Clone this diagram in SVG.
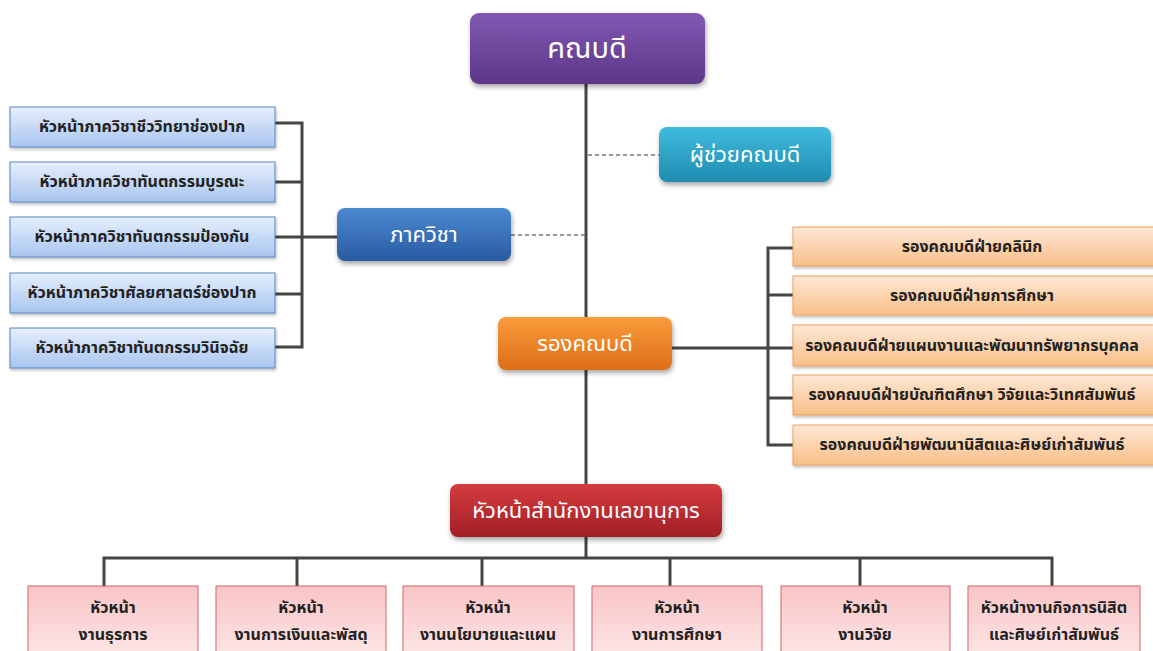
<svg xmlns="http://www.w3.org/2000/svg" width="1153" height="651" viewBox="0 0 1153 651">
<defs>
<linearGradient id="gPurple" x1="0" y1="0" x2="0" y2="1"><stop offset="0" stop-color="#8159b0"/><stop offset="1" stop-color="#5c3689"/></linearGradient>
<linearGradient id="gTeal" x1="0" y1="0" x2="0" y2="1"><stop offset="0" stop-color="#3fbbdc"/><stop offset="1" stop-color="#1f8db0"/></linearGradient>
<linearGradient id="gBlue" x1="0" y1="0" x2="0" y2="1"><stop offset="0" stop-color="#4b89d0"/><stop offset="1" stop-color="#295ba2"/></linearGradient>
<linearGradient id="gOrange" x1="0" y1="0" x2="0" y2="1"><stop offset="0" stop-color="#f99c3b"/><stop offset="1" stop-color="#de6e18"/></linearGradient>
<linearGradient id="gRed" x1="0" y1="0" x2="0" y2="1"><stop offset="0" stop-color="#d43c3e"/><stop offset="1" stop-color="#a21f27"/></linearGradient>
<linearGradient id="gLBlue" x1="0" y1="0" x2="0" y2="1"><stop offset="0" stop-color="#e6effc"/><stop offset="1" stop-color="#a8c5ef"/></linearGradient>
<linearGradient id="gLOrange" x1="0" y1="0" x2="0" y2="1"><stop offset="0" stop-color="#fde8d5"/><stop offset="1" stop-color="#f9bf88"/></linearGradient>
<linearGradient id="gPink" x1="0" y1="0" x2="0" y2="1"><stop offset="0" stop-color="#f9c4c6"/><stop offset="1" stop-color="#fde6e6"/></linearGradient>
<filter id="sh" x="-10%" y="-20%" width="120%" height="150%"><feDropShadow dx="1" dy="3" stdDeviation="2.5" flood-color="#000" flood-opacity="0.35"/></filter>
<filter id="shs" x="-10%" y="-20%" width="120%" height="150%"><feDropShadow dx="1" dy="2" stdDeviation="1.5" flood-color="#000" flood-opacity="0.25"/></filter>
</defs>
<style>
.conn{stroke:#444;stroke-width:3;fill:none}
.dash{stroke:#777;stroke-width:1.5;stroke-dasharray:4 3;fill:none}
.t{font-family:"Noto Sans Thai","Leelawadee UI",Tahoma,"Liberation Sans",sans-serif;text-anchor:middle;dominant-baseline:central}
.big{fill:#fff;font-size:29px}
.mid{fill:#fff;font-size:22px}
.small{fill:#222;font-size:16px;font-weight:bold}
.lb{fill:url(#gLBlue);stroke:#5b86c8;stroke-width:1}
.lo{fill:url(#gLOrange);stroke:#e9a262;stroke-width:1}
.pk{fill:url(#gPink);stroke:#d2676b;stroke-width:1}
</style>
<rect width="1153" height="651" fill="#fff"/>
<g id="connectors">
<line class="conn" x1="586" y1="84" x2="586" y2="484"/>
<line class="conn" x1="586" y1="537" x2="586" y2="558"/>
<line class="dash" x1="588" y1="155" x2="659" y2="155"/>
<line class="dash" x1="511" y1="235" x2="585" y2="235"/>
<polyline class="conn" points="275,123 302,123 302,347 275,347"/>
<line class="conn" x1="275" y1="182" x2="302" y2="182"/>
<line class="conn" x1="275" y1="294" x2="302" y2="294"/>
<line class="conn" x1="275" y1="237" x2="337" y2="237"/>
<line class="conn" x1="672" y1="348" x2="793" y2="348"/>
<polyline class="conn" points="793,248 768,248 768,445 793,445"/>
<line class="conn" x1="768" y1="295" x2="793" y2="295"/>
<line class="conn" x1="768" y1="398" x2="793" y2="398"/>
<polyline class="conn" points="104,586 104,558 1052,558 1052,586"/>
<line class="conn" x1="297" y1="558" x2="297" y2="586"/>
<line class="conn" x1="482" y1="558" x2="482" y2="586"/>
<line class="conn" x1="670" y1="558" x2="670" y2="586"/>
<line class="conn" x1="860" y1="558" x2="860" y2="586"/>
</g>
<g id="dean"><rect x="470" y="13" width="235" height="71" rx="9" fill="url(#gPurple)" filter="url(#sh)"/><text class="t big" x="587" y="49">คณบดี</text></g>
<g id="assistant"><rect x="659" y="127" width="172" height="55" rx="8" fill="url(#gTeal)" filter="url(#sh)"/><text class="t mid" x="745" y="155">ผู้ช่วยคณบดี</text></g>
<g id="dept"><rect x="337" y="208" width="174" height="53" rx="8" fill="url(#gBlue)" filter="url(#sh)"/><text class="t mid" x="424" y="235">ภาควิชา</text></g>
<g id="vicedean"><rect x="498" y="317" width="174" height="53" rx="8" fill="url(#gOrange)" filter="url(#sh)"/><text class="t mid" x="585" y="344">รองคณบดี</text></g>
<g id="secretary"><rect x="450" y="484" width="272" height="53" rx="8" fill="url(#gRed)" filter="url(#sh)"/><text class="t mid" x="586" y="511">หัวหน้าสำนักงานเลขานุการ</text></g>
<g id="d1"><rect class="lb" x="10" y="107" width="265" height="40" filter="url(#shs)"/><text class="t small" x="142" y="127">หัวหน้าภาควิชาชีววิทยาช่องปาก</text></g>
<g id="d2"><rect class="lb" x="10" y="162" width="265" height="40" filter="url(#shs)"/><text class="t small" x="142" y="182">หัวหน้าภาควิชาทันตกรรมบูรณะ</text></g>
<g id="d3"><rect class="lb" x="10" y="217" width="265" height="40" filter="url(#shs)"/><text class="t small" x="142" y="237">หัวหน้าภาควิชาทันตกรรมป้องกัน</text></g>
<g id="d4"><rect class="lb" x="10" y="273" width="265" height="40" filter="url(#shs)"/><text class="t small" x="142" y="293">หัวหน้าภาควิชาศัลยศาสตร์ช่องปาก</text></g>
<g id="d5"><rect class="lb" x="10" y="328" width="265" height="40" filter="url(#shs)"/><text class="t small" x="142" y="348">หัวหน้าภาควิชาทันตกรรมวินิจฉัย</text></g>
<g id="v1"><rect class="lo" x="793" y="227" width="362" height="39" filter="url(#shs)"/><text class="t small" x="972" y="247">รองคณบดีฝ่ายคลินิก</text></g>
<g id="v2"><rect class="lo" x="793" y="276" width="362" height="39" filter="url(#shs)"/><text class="t small" x="972" y="296">รองคณบดีฝ่ายการศึกษา</text></g>
<g id="v3"><rect class="lo" x="793" y="325" width="362" height="41" filter="url(#shs)"/><text class="t small" x="972" y="346">รองคณบดีฝ่ายแผนงานและพัฒนาทรัพยากรบุคคล</text></g>
<g id="v4"><rect class="lo" x="793" y="375" width="362" height="40" filter="url(#shs)"/><text class="t small" x="972" y="395">รองคณบดีฝ่ายบัณฑิตศึกษา วิจัยและวิเทศสัมพันธ์</text></g>
<g id="v5"><rect class="lo" x="793" y="425" width="362" height="40" filter="url(#shs)"/><text class="t small" x="972" y="445">รองคณบดีฝ่ายพัฒนานิสิตและศิษย์เก่าสัมพันธ์</text></g>
<g id="s1"><rect class="pk" x="28" y="586" width="170" height="70"/><text class="t small" x="113" y="608">หัวหน้า</text><text class="t small" x="113" y="635">งานธุรการ</text></g>
<g id="s2"><rect class="pk" x="216" y="586" width="170" height="70"/><text class="t small" x="301" y="608">หัวหน้า</text><text class="t small" x="301" y="635">งานการเงินและพัสดุ</text></g>
<g id="s3"><rect class="pk" x="403" y="586" width="171" height="70"/><text class="t small" x="488" y="608">หัวหน้า</text><text class="t small" x="488" y="635">งานนโยบายและแผน</text></g>
<g id="s4"><rect class="pk" x="592" y="586" width="170" height="70"/><text class="t small" x="677" y="608">หัวหน้า</text><text class="t small" x="677" y="635">งานการศึกษา</text></g>
<g id="s5"><rect class="pk" x="781" y="586" width="169" height="70"/><text class="t small" x="865" y="608">หัวหน้า</text><text class="t small" x="865" y="635">งานวิจัย</text></g>
<g id="s6"><rect class="pk" x="968" y="586" width="172" height="70"/><text class="t small" x="1054" y="608">หัวหน้างานกิจการนิสิต</text><text class="t small" x="1054" y="635">และศิษย์เก่าสัมพันธ์</text></g>
</svg>
